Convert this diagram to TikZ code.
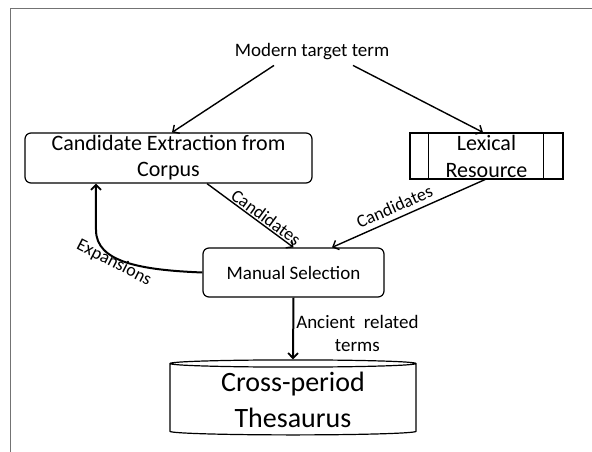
\documentclass[tikz,border=0pt]{standalone}
\usepackage{fontspec}
\setmainfont{Carlito}
\usetikzlibrary{arrows.meta,shapes.geometric,calc}
\begin{document}
\begin{tikzpicture}[x=1pt,y=1pt,
  rbox/.style={draw, line width=1.2pt, rounded corners=6pt, inner sep=0pt, align=center},
  arr/.style={line width=1.4pt, -{Straight Barb[length=5pt,width=10pt,line width=1.4pt]}},
  tarr/.style={line width=2pt, -{Straight Barb[length=5pt,width=10pt,line width=1.8pt]}},
  lbl/.style={font=\fontsize{18}{21}\selectfont, inner sep=1pt}]
\useasboundingbox (0,0) rectangle (592,-452);
\draw[black!55, line width=1pt] (10,-452) -- (10,-9) -- (592,-9);

\node[font=\fontsize{19}{23}\selectfont, inner xsep=0pt, inner ysep=5pt] (mtt) at (312,-52) {Modern target term};
\node[rbox, minimum width=287pt, minimum height=50pt, font=\fontsize{22}{26}\selectfont] (cand) at (168.5,-158) {Candidate Extraction from\\Corpus};
\node[draw, line width=1.2pt, inner sep=0pt, minimum width=153pt, minimum height=46pt, align=center, font=\fontsize{22}{27}\selectfont] (lex) at (486.5,-156) {Lexical\\Resource};
\draw[line width=1.2pt] ([xshift=19pt]lex.north west) -- ([xshift=19pt]lex.south west);
\draw[line width=1.2pt] ([xshift=-20pt]lex.north east) -- ([xshift=-20pt]lex.south east);
\node[rbox, minimum width=181pt, minimum height=49pt, font=\fontsize{19}{23}\selectfont] (ms) at (293.5,-272.5) {Manual Selection};
\node[cylinder, shape border rotate=90, draw, line width=1.2pt, aspect=0.05, minimum width=246pt, minimum height=75pt, inner sep=0pt, align=center, font=\fontsize{28}{35}\selectfont] (cyl) at (293,-399.5) {\raisebox{-3pt}{Cross-period}\\\raisebox{-4pt}{Thesaurus}};

\draw[arr] ([xshift=-38pt]mtt.south) -- ([xshift=3.5pt]cand.north);
\draw[arr] ([xshift=41pt]mtt.south) -- ([xshift=-3.5pt]lex.north);
\draw[arr] ([xshift=38.5pt]cand.south) -- node[lbl, pos=0.63, sloped, above] {Candidates} (ms.north);
\draw[arr] ([xshift=-1.5pt]lex.south) -- node[lbl, pos=0.56, sloped, above=4pt] {Candidates} ([xshift=38.5pt]ms.north);
\draw[tarr] (ms.west) .. controls (140,-270) and (96,-262) .. (96,-230) -- ([xshift=71.5pt]cand.south west);
\node[lbl, rotate=-27] (exp) at (114,-263) {Expansions};
\draw[tarr] (ms.south) -- node[pos=0.5, right, inner sep=2pt, yshift=-5pt, align=center, font=\fontsize{19}{23}\selectfont] {Ancient\ \ related\\terms} (cyl.north);
\end{tikzpicture}
\end{document}
